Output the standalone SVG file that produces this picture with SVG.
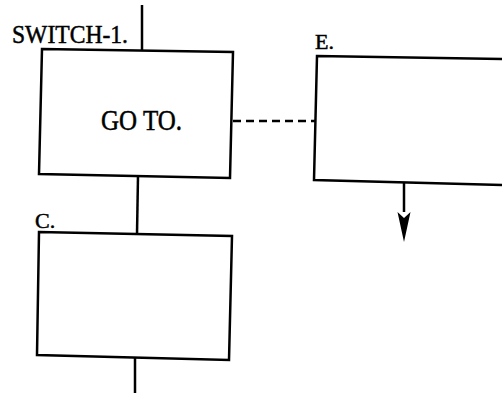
<svg xmlns="http://www.w3.org/2000/svg" width="502" height="393" viewBox="0 0 502 393">
<style>
.box{fill:#fff;stroke:#000;stroke-width:2.5;stroke-linejoin:miter}
.ln{fill:none;stroke:#000;stroke-width:2.5}
.dash{fill:none;stroke:#000;stroke-width:2.5;stroke-dasharray:8 5}
.t{font-family:"Liberation Serif","Times New Roman",serif;fill:#000;stroke:#000;stroke-width:0.5}
</style>
<g id="connectors">
<line class="ln" x1="142" y1="5" x2="142" y2="50"/>
<line class="ln" x1="138" y1="176" x2="137" y2="234"/>
<line class="ln" x1="135" y1="357" x2="135" y2="393"/>
<line class="dash" x1="233" y1="121" x2="316" y2="121"/>
<line class="ln" x1="404" y1="182" x2="404" y2="212"/>
<path d="M397.5,212 L404,218 L410.5,212 L404,242 Z" fill="#000"/>
</g>
<g id="switch">
<polygon class="box" points="42,49 233,52 230,178 39,174"/>
<text class="t" x="12" y="43" font-size="26" textLength="116" lengthAdjust="spacingAndGlyphs">SWITCH-1.</text>
<text class="t" x="101" y="130" font-size="29" textLength="81" lengthAdjust="spacingAndGlyphs">GO TO.</text>
</g>
<g id="c">
<polygon class="box" points="39,232 232,236 229,360 37,355"/>
<text class="t" x="35" y="228" font-size="22">C.</text>
</g>
<g id="e">
<polygon class="box" points="317,56 504,59 504,185 314,180"/>
<text class="t" x="315" y="49" font-size="22">E.</text>
</g>
</svg>
